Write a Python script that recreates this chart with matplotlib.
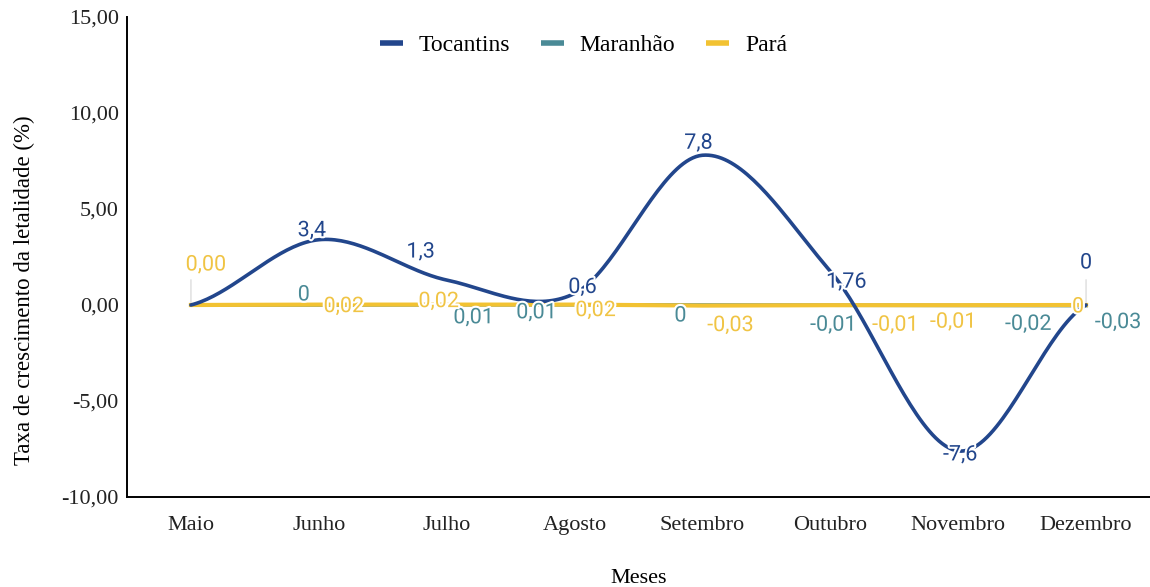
"""Taxa de crescimento da letalidade por mês: Tocantins, Maranhão e Pará."""

import matplotlib
matplotlib.use("Agg")
import matplotlib.pyplot as plt
import matplotlib.patheffects as pe
import numpy as np
from matplotlib.lines import Line2D
from matplotlib.ticker import FuncFormatter

meses = ["Maio", "Junho", "Julho", "Agosto", "Setembro", "Outubro", "Novembro", "Dezembro"]
tocantins = [0, 3.4, 1.3, 0.6, 7.8, 1.76, -7.6, 0]
maranhao = [0, 0, 0.01, 0.01, 0, -0.01, -0.02, -0.03]
para = [0.00, 0.02, 0.02, 0.02, -0.03, -0.01, -0.01, 0]

tocantins_txt = [None, "3,4", "1,3", "0,6", "7,8", "1,76", "-7,6", "0"]
maranhao_txt = [None, "0", "0,01", "0,01", "0", "-0,01", "-0,02", "-0,03"]
para_txt = ["0,00", "0,02", "0,02", "0,02", "-0,03", "-0,01", "-0,01", "0"]

# label offsets in pixels (dx, dy up)
toc_off = [None, (-7, 9), (-26, 28), (8, 6), (-4, 12), (16, -11), (2, -4), (0, 42)]
mar_off = [None, (-15, 10), (27, -13), (-38, -8), (-22, -11), (3, -20), (70, -19), (32, -17)]
par_off = [(15, 40), (25, -2), (-8, 3), (21, -6), (28, -20), (65, -20), (-5, -17), (-8, -2)]

C_TOC = "#22468c"
C_MAR = "#4a8a96"
C_PAR = "#f2c232"


def smooth(y, n=40):
    """Catmull-Rom curve through the points, for drawing only."""
    y = np.asarray(y, dtype=float)
    p = np.concatenate([[y[0]], y, [y[-1]]])
    xs, ys = [], []
    t = np.linspace(0, 1, n, endpoint=False)
    for i in range(len(y) - 1):
        p0, p1, p2, p3 = p[i], p[i + 1], p[i + 2], p[i + 3]
        m1 = (p2 - p0) / 2
        m2 = (p3 - p1) / 2
        h00 = 2 * t**3 - 3 * t**2 + 1
        h10 = t**3 - 2 * t**2 + t
        h01 = -2 * t**3 + 3 * t**2
        h11 = t**3 - t**2
        xs.append(i + t)
        ys.append(h00 * p1 + h10 * m1 + h01 * p2 + h11 * m2)
    xs.append([len(y) - 1])
    ys.append([y[-1]])
    return np.concatenate(xs), np.concatenate(ys)


fig = plt.figure(figsize=(11.5, 5.87), dpi=100)
ax = fig.add_axes([127 / 1150, 1 - 497 / 587, 1 - 127 / 1150, 480 / 587])

x = np.arange(len(meses))
ax.plot(*smooth(tocantins), color=C_TOC, lw=2.6, zorder=4, solid_capstyle="round")
ax.plot(x, maranhao, color=C_MAR, lw=2.6, zorder=2)
ax.plot(x, para, color=C_PAR, lw=3.0, zorder=3)

halo = [pe.withStroke(linewidth=3, foreground="white")]


def labels(vals, txts, offs, color):
    for i, (v, s, o) in enumerate(zip(vals, txts, offs)):
        if s is None:
            continue
        ax.annotate(s, (i, v), xytext=o, textcoords="offset pixels",
                    ha="center", va="center", color=color, fontsize=15.5,
                    family="Roboto", path_effects=halo, zorder=6)


labels(tocantins, tocantins_txt, toc_off, C_TOC)
labels(maranhao, maranhao_txt, mar_off, C_MAR)
labels(para, para_txt, par_off, "#f0c444")

# leader lines for the labels pushed away from their points
for i, v, dy in [(0, para[0], 28), (7, tocantins[7], 28)]:
    ax.annotate("", (i, v), xytext=(0, dy), textcoords="offset pixels",
                arrowprops=dict(arrowstyle="-", color="#dddddd", lw=1), zorder=1)

ax.set_xlim(-0.5, len(meses) - 0.5)
ax.set_ylim(-10, 15)
ax.set_yticks(np.arange(-10, 16, 5))
ax.yaxis.set_major_formatter(FuncFormatter(lambda v, _: f"{v:.2f}".replace(".", ",")))
ax.set_xticks(x)
ax.set_xticklabels(meses)

serif = "Liberation Serif"
for lab in ax.get_xticklabels() + ax.get_yticklabels():
    lab.set_family(serif)
    lab.set_fontsize(16)
    lab.set_color("#222222")
ax.tick_params(axis="x", length=0, pad=14)
ax.tick_params(axis="y", length=0, pad=6)

for side in ["top", "right"]:
    ax.spines[side].set_visible(False)
ax.spines["left"].set_linewidth(1.4)
ax.spines["bottom"].set_linewidth(1.4)

ax.set_xlabel("Meses", family=serif, fontsize=16)
ax.xaxis.set_label_coords(0.5, -0.149)
ax.set_ylabel("Taxa de crescimento da letalidade (%)", family=serif, fontsize=16.5)
ax.yaxis.set_label_coords(-0.090, 0.431)

handles = [Line2D([], [], color=c, lw=4.0, solid_capstyle="butt") for c in (C_TOC, C_MAR, C_PAR)]
leg = ax.legend(handles, ["Tocantins", "Maranhão", "Pará"], loc="center left",
                bbox_to_anchor=((358.6 - 127) / 1024, (497 - 45) / 480),
                ncol=3, frameon=False, handlelength=0.97, handletextpad=0.68,
                columnspacing=1.3, prop={"family": serif, "size": 17})

fig.savefig("out.png", dpi=100)
